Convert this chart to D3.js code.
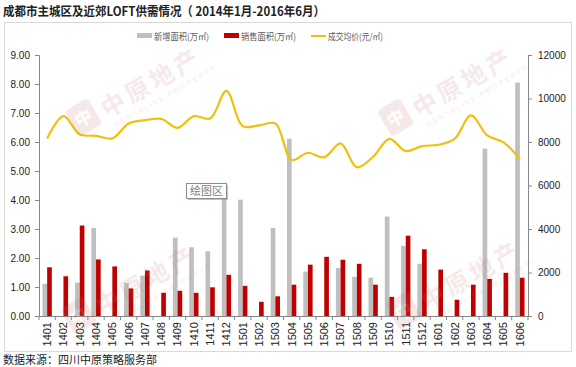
<!DOCTYPE html>
<html>
<head>
<meta charset="utf-8">
<script src="https://cdn.jsdelivr.net/npm/d3@7"></script>
<style>
  body { margin: 0; background: #fff; }
  svg { display: block; font-family: "Liberation Sans", Arial, "Noto Sans CJK SC", sans-serif; }
</style>
</head>
<body>
<div id="chart"></div>
<script>
'use strict';

// 月份（横轴）
const months = ['1401','1402','1403','1404','1405','1406','1407','1408','1409','1410','1411','1412',
  '1501','1502','1503','1504','1505','1506','1507','1508','1509','1510','1511','1512',
  '1601','1602','1603','1604','1605','1606'];

// 新增面积(万㎡)
const newArea = [1.11, 0, 1.15, 3.04, 0, 1.15, 1.39, 0, 2.70, 2.37, 2.23, 4.35,
  4.01, 0, 3.04, 6.11, 1.53, 0, 1.66, 1.35, 1.32, 3.43, 2.42, 1.80,
  0, 0, 0, 5.77, 0, 8.05];

// 销售面积(万㎡)
const soldArea = [1.68, 1.37, 3.12, 1.95, 1.71, 0.95, 1.57, 0.80, 0.87, 0.80, 0.99, 1.42,
  1.04, 0.49, 0.68, 1.08, 1.77, 2.04, 1.94, 1.80, 1.08, 0.66, 2.77, 2.30,
  1.60, 0.56, 1.08, 1.28, 1.49, 1.32];

// 成交均价(元/㎡)
const avgPrice = [8165, 9188, 8349, 8284, 8165, 8853, 9004, 9064, 8651, 9188, 9080, 10349,
  8729, 8761, 8853, 7170, 7505, 7294, 7936, 6835, 7321, 8147, 7583, 7812,
  7872, 8147, 9220, 8303, 7982, 7216];

const leftTicks = [0, 1, 2, 3, 4, 5, 6, 7, 8, 9];
const rightTicks = [0, 2000, 4000, 6000, 8000, 10000, 12000];

const seriesNames = ['新增面积(万㎡)', '销售面积(万㎡)', '成交均价(元/㎡)'];
const colors = { gray: '#bfbfbf', red: '#c00000', gold: '#f0c010', axis: '#868686' };

const width = 576, height = 367;
const plot = { left: 39, right: 528, top: 55, bottom: 316 };
const cjk = '"Noto Sans CJK SC", sans-serif';

const $svg = d3.select('#chart').append('svg')
  .attr('width', width)
  .attr('height', height);

// Faint watermarks, drawn over the plot like the original.
const watermarks = [[80, 137], [75, 335], [392, 137], [400, 330]];
const drawWatermarks = ($parent, opacity) => {
  const $wm = $parent.append('g').attr('opacity', opacity).attr('pointer-events', 'none');
  watermarks.forEach(([wx, wy]) => {
    const $g = $wm.append('g').attr('transform', `translate(${wx},${wy}) rotate(-30)`);
    $g.append('rect').attr('x', 0).attr('y', -30).attr('width', 26).attr('height', 30).attr('rx', 4).attr('fill', '#c07070');
    $g.append('text').attr('x', 4).attr('y', -8).attr('font-size', 17).attr('font-weight', 'bold').attr('fill', '#fff')
      .style('font-family', cjk).text('中');
    $g.append('text').attr('x', 33).attr('y', -3).attr('font-size', 24).attr('font-weight', 'bold')
      .attr('letter-spacing', 4).attr('fill', '#c07070')
      .style('font-family', cjk).text('中原地产');
    $g.append('text').attr('x', 36).attr('y', 10).attr('font-size', 8)
      .attr('letter-spacing', 1.5).attr('fill', '#c07070').text('CENTALINE PROPERTY');
  });
};

// Title
$svg.append('text')
  .attr('x', 3).attr('y', 16)
  .attr('font-size', 12.5)
  .attr('font-weight', 'bold')
  .attr('fill', '#222')
  .attr('textLength', 322)
  .attr('lengthAdjust', 'spacingAndGlyphs')
  .style('font-family', cjk)
  .text('成都市主城区及近郊LOFT供需情况（ 2014年1月-2016年6月）');

// Chart frame
$svg.append('rect')
  .attr('x', 4.5).attr('y', 22.5)
  .attr('width', 567).attr('height', 329)
  .attr('fill', 'none')
  .attr('stroke', '#d9d9d9');

// Scales
const x = d3.scaleBand().domain(months).range([plot.left, plot.right]);
const barW = x.bandwidth() / 3.5;
const xSeries = d3.scaleBand().domain(['new', 'sold']).range([x.bandwidth() / 2 - barW, x.bandwidth() / 2 + barW]);
const yLeft = d3.scaleLinear().domain([0, 9]).range([plot.bottom, plot.top]);
const yRight = d3.scaleLinear().domain([0, 12000]).range([plot.bottom, plot.top]);

const rows = months.map((m, i) => ({ m: m, new: newArea[i], sold: soldArea[i], price: avgPrice[i] }));

// Bars
const $bars = $svg.append('g');
$bars.selectAll('.bar-new')
  .data(rows.filter(d => d.new > 0))
  .enter().append('rect')
  .attr('class', 'bar-new')
  .attr('x', d => x(d.m) + xSeries('new'))
  .attr('width', xSeries.bandwidth())
  .attr('y', d => yLeft(d.new))
  .attr('height', d => yLeft(0) - yLeft(d.new))
  .attr('fill', colors.gray);

$bars.selectAll('.bar-sold')
  .data(rows)
  .enter().append('rect')
  .attr('class', 'bar-sold')
  .attr('x', d => x(d.m) + xSeries('sold'))
  .attr('width', xSeries.bandwidth())
  .attr('y', d => yLeft(d.sold))
  .attr('height', d => yLeft(0) - yLeft(d.sold))
  .attr('fill', colors.red);

// Price line
const line = d3.line()
  .x(d => x(d.m) + x.bandwidth() / 2)
  .y(d => yRight(d.price))
  .curve(d3.curveCatmullRom.alpha(0.5));

$svg.append('path')
  .datum(rows)
  .attr('d', line)
  .attr('fill', 'none')
  .attr('stroke', colors.gold)
  .attr('stroke-width', 2.2);

// Axes
const styleAxis = ($g) => {
  $g.selectAll('.domain').attr('stroke', colors.axis);
  $g.selectAll('.tick line').attr('stroke', colors.axis);
  $g.selectAll('.tick text').attr('fill', '#222');
};

$svg.append('g')
  .attr('transform', `translate(${plot.left},0)`)
  .call(d3.axisLeft(yLeft).tickValues(leftTicks).tickFormat(d3.format('.2f')).tickSize(4).tickSizeOuter(4).tickPadding(5))
  .attr('font-size', 10)
  .attr('font-family', null)
  .call(styleAxis);

$svg.append('g')
  .attr('transform', `translate(${plot.right},0)`)
  .call(d3.axisRight(yRight).tickValues(rightTicks).tickFormat(d3.format('d')).tickSize(4).tickSizeOuter(4).tickPadding(6))
  .attr('font-size', 10)
  .attr('font-family', null)
  .call(styleAxis);

const $xAxis = $svg.append('g')
  .attr('transform', `translate(0,${plot.bottom})`)
  .call(d3.axisBottom(x).tickSize(0).tickPadding(0))
  .attr('font-size', 11)
  .attr('font-family', null)
  .call(styleAxis);

$xAxis.selectAll('.tick text')
  .attr('transform', 'rotate(-90)')
  .attr('text-anchor', 'end')
  .attr('x', -6)
  .attr('y', 0)
  .attr('dy', '0.35em');

// boundary ticks between categories
$xAxis.selectAll('.sep')
  .data(months.concat(['end']))
  .enter().append('line')
  .attr('class', 'sep')
  .attr('x1', (d, i) => plot.left + i * x.bandwidth())
  .attr('x2', (d, i) => plot.left + i * x.bandwidth())
  .attr('y1', 0).attr('y2', 4)
  .attr('stroke', colors.axis);

// Legend
const legend = [
  { name: seriesNames[0], type: 'rect', color: colors.gray, x: 137 },
  { name: seriesNames[1], type: 'rect', color: colors.red, x: 224 },
  { name: seriesNames[2], type: 'line', color: colors.gold, x: 311 }
];
const $legend = $svg.append('g').attr('transform', 'translate(0,36)');
legend.forEach((d) => {
  if(d.type === 'rect') {
    $legend.append('rect').attr('x', d.x).attr('y', -3).attr('width', 15).attr('height', 5).attr('fill', d.color);
  } else {
    $legend.append('line').attr('x1', d.x).attr('x2', d.x + 15).attr('y1', 0).attr('y2', 0)
      .attr('stroke', d.color).attr('stroke-width', 2);
  }
  $legend.append('text')
    .attr('x', d.x + 17).attr('y', 3.5)
    .attr('font-size', 9)
    .attr('fill', '#595959')
    .attr('textLength', 55)
    .attr('lengthAdjust', 'spacingAndGlyphs')
    .style('font-family', cjk)
    .text(d.name);
});

// "绘图区" hover label
const $tip = $svg.append('g').attr('transform', 'translate(186,183)');
$tip.append('rect').attr('x', 2).attr('y', 2).attr('width', 40).attr('height', 15).attr('fill', '#999').attr('opacity', 0.6);
$tip.append('rect').attr('x', 0.5).attr('y', 0.5).attr('width', 40).attr('height', 15).attr('fill', '#fff').attr('stroke', '#8c8c8c');
$tip.append('text').attr('x', 4).attr('y', 12).attr('font-size', 11).attr('fill', '#808080')
  .style('font-family', cjk).text('绘图区');

drawWatermarks($svg, 0.16);

// Source note
$svg.append('text')
  .attr('x', 3).attr('y', 364)
  .attr('font-size', 11)
  .attr('fill', '#222')
  .style('font-family', cjk)
  .text('数据来源：四川中原策略服务部');
</script>
</body>
</html>
